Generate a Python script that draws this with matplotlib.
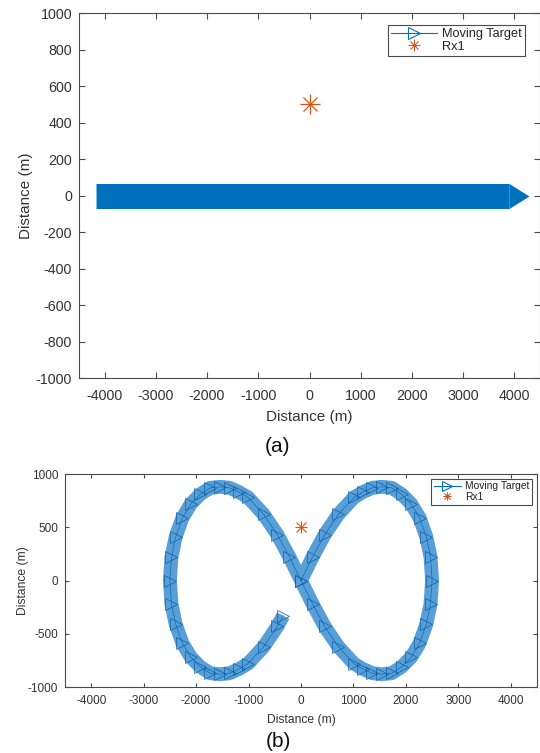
import matplotlib
matplotlib.use('Agg')
import matplotlib.pyplot as plt
from matplotlib.lines import Line2D

plt.rcParams['font.family'] = ['Liberation Sans', 'DejaVu Sans']
plt.rcParams['axes.unicode_minus'] = False

blue = '#0072BD'
orange = '#D95319'
axis_gray = '#4a4a4a'
text_gray = '#333333'

# (a) straight track along y = 0 (m)
track_a_x = [-4160, 3890]
track_a_y = [0, 0]

# (b) figure-eight track (m), starts at the origin heading up-right
track_b_x = [0, 220, 450, 710, 1010, 1180, 1360, 1540, 1730, 1920, 2100, 2260, 2390, 2470,
             2500, 2470, 2390, 2260, 2100, 1920, 1730, 1540, 1360, 1180, 1010, 710, 450, 220,
             0, -220, -450, -710, -1010, -1180, -1360, -1540, -1730, -1920, -2100, -2260, -2390,
             -2470, -2500, -2470, -2390, -2260, -2100, -1920, -1730, -1540, -1360, -1180, -1010,
             -710, -450, -340]
track_b_y = [0, 220, 430, 620, 780, 830, 870, 880, 870, 810, 720, 590, 410, 220,
             0, -220, -410, -590, -720, -810, -870, -880, -870, -830, -780, -620, -430, -220,
             0, 220, 430, 620, 780, 830, 870, 880, 870, 810, 720, 590, 410,
             220, 0, -220, -410, -590, -720, -810, -870, -880, -870, -830, -780,
             -620, -430, -330]

# receiver position (m)
rx1_x = [0]
rx1_y = [500]

x_ticks = [-4000, -3000, -2000, -1000, 0, 1000, 2000, 3000, 4000]
y_ticks_a = [-1000, -800, -600, -400, -200, 0, 200, 400, 600, 800, 1000]
y_ticks_b = [-1000, -500, 0, 500, 1000]

# arrow-head marker: flat base on the point, tip to the right
head = [(0, 0.625), (1, 0), (0, -0.625), (0, 0.625)]


def style_axes(ax, yticks, tick_size, label_size, tick_len, xpad, ypad, xlpad, ylpad):
    ax.set_xlim(-4500, 4500)
    ax.set_ylim(-1000, 1000)
    ax.set_xticks(x_ticks)
    ax.set_yticks(yticks)
    ax.tick_params(direction='in', top=True, right=True, length=tick_len, width=0.8,
                   color=axis_gray, labelcolor=text_gray, labelsize=tick_size)
    ax.tick_params(axis='x', pad=xpad)
    ax.tick_params(axis='y', pad=ypad)
    for sp in ax.spines.values():
        sp.set_color(axis_gray)
        sp.set_linewidth(0.8)
    ax.set_xlabel('Distance (m)', fontsize=label_size, color=text_gray, labelpad=xlpad)
    ax.set_ylabel('Distance (m)', fontsize=label_size, color=text_gray, labelpad=ylpad)


def add_legend(ax, anchor, fs, hl, tri, star):
    h_target = Line2D([], [], color=blue, lw=0.8, marker='>', ms=tri, mfc='none',
                      mec=blue, mew=0.8)
    h_plus = Line2D([], [], ls='none', marker='+', color=orange, ms=star, mew=0.8)
    h_x = Line2D([], [], ls='none', marker='x', color=orange, ms=star * 0.7, mew=0.8)
    leg = ax.legend([h_target, (h_plus, h_x)], ['Moving Target', 'Rx1'],
                    loc='upper right', bbox_to_anchor=anchor, borderaxespad=0,
                    fancybox=False, edgecolor=axis_gray, framealpha=1, fontsize=fs,
                    handlelength=hl, labelspacing=0.05, borderpad=0.25,
                    handletextpad=0.4)
    leg.get_frame().set_linewidth(0.8)
    for t in leg.get_texts():
        t.set_color('#222222')


fig = plt.figure(figsize=(5.4, 7.53), dpi=100)
ax1 = fig.add_axes([0.1463, 0.498, 0.8537, 0.4847])
ax2 = fig.add_axes([0.1204, 0.0876, 0.8740, 0.2829])

# (a) target sweeping along the x axis
ax1.plot(track_a_x, track_a_y, color=blue, lw=18, solid_capstyle='butt',
         marker=head, markevery=[-1], ms=28.8, mfc=blue, mec=blue, mew=0)
ax1.plot(rx1_x, rx1_y, ls='none', marker='+', color=orange, ms=15, mew=0.9)
ax1.plot(rx1_x, rx1_y, ls='none', marker='x', color=orange, ms=10.5, mew=0.9)
style_axes(ax1, y_ticks_a, 10.3, 11, 4, 8, 5, 5, 2)
add_legend(ax1, (0.967, 0.967), 9.2, 3.6, 9, 8)

# (b) target on a figure-eight
ax2.plot(track_b_x, track_b_y, color='#2f86cc', lw=10, alpha=0.8,
         solid_capstyle='butt', solid_joinstyle='round')
ax2.plot(track_b_x, track_b_y, color=blue, lw=0.5, marker='>', ms=8.5,
         mfc='none', mec='#0a62a8', mew=0.5)
ax2.plot(rx1_x, rx1_y, ls='none', marker='+', color=orange, ms=9, mew=0.8)
ax2.plot(rx1_x, rx1_y, ls='none', marker='x', color=orange, ms=6.5, mew=0.8)
style_axes(ax2, y_ticks_b, 8.5, 8.7, 3, 5.5, 5, 5.5, -1)
add_legend(ax2, (0.989, 0.977), 7.4, 2.6, 7, 6)

fig.text(0.513, 0.4077, '(a)', ha='center', va='center', fontsize=15, color='#111111')
fig.text(0.515, 0.015, '(b)', ha='center', va='center', fontsize=15, color='#111111')

fig.savefig('out.png', dpi=100)
